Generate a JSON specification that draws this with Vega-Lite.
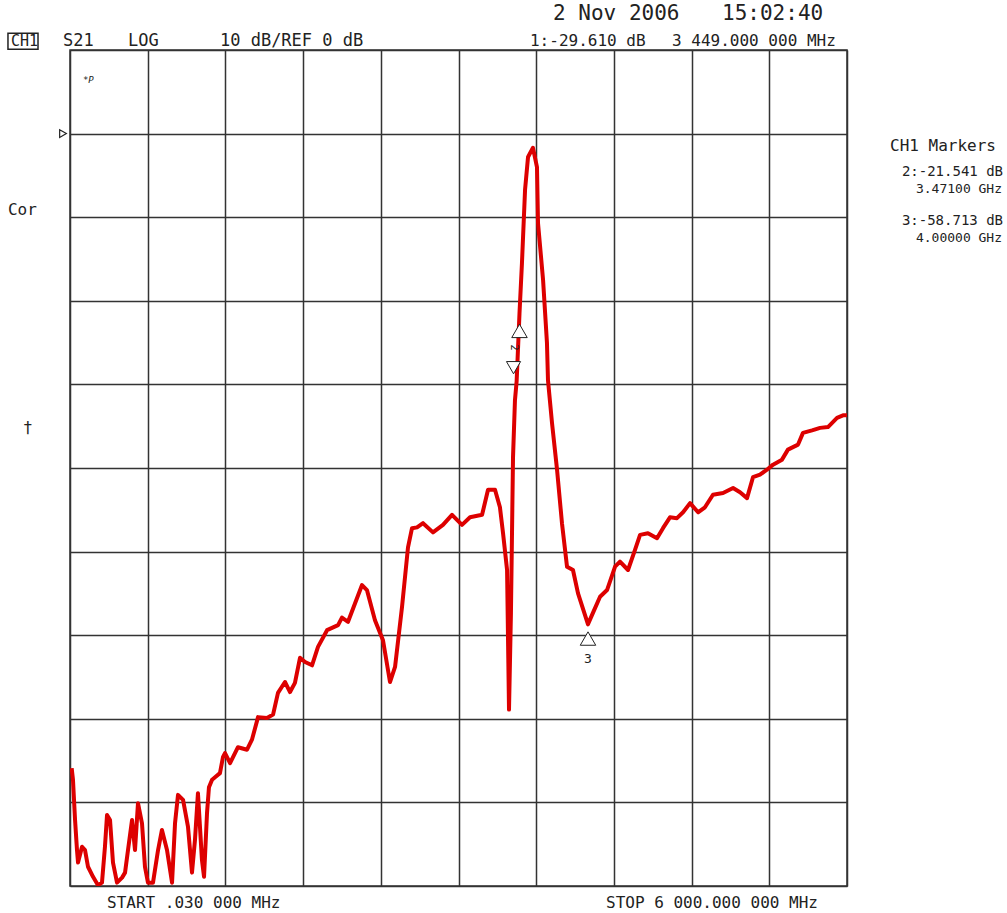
{
  "$schema": "https://vega.github.io/schema/vega-lite/v6.json",
  "width": 777,
  "height": 836,
  "autosize": "none",
  "padding": {"left": 70, "top": 50, "right": 160, "bottom": 27},
  "background": "white",
  "config": {
    "view": {"stroke": "#333333", "strokeWidth": 1.5},
    "text": {"font": "DejaVu Sans Mono", "color": "#222222"}
  },
  "datasets": {
    "trace": [
      {"f": 13, "db": -75.9}, {"f": 23, "db": -77.3}, {"f": 39, "db": -82.1}, {"f": 54, "db": -85.7},
      {"f": 62, "db": -87.2}, {"f": 93, "db": -85.3}, {"f": 116, "db": -85.7}, {"f": 139, "db": -87.7},
      {"f": 178, "db": -88.9}, {"f": 216, "db": -89.9}, {"f": 247, "db": -89.6}, {"f": 270, "db": -85.3},
      {"f": 286, "db": -81.5}, {"f": 309, "db": -82.1}, {"f": 332, "db": -87.2}, {"f": 363, "db": -89.6},
      {"f": 402, "db": -89.0}, {"f": 425, "db": -88.4}, {"f": 448, "db": -85.7}, {"f": 479, "db": -82.1},
      {"f": 502, "db": -85.7}, {"f": 525, "db": -80.1}, {"f": 556, "db": -82.5}, {"f": 579, "db": -87.7},
      {"f": 602, "db": -89.6}, {"f": 641, "db": -89.6}, {"f": 680, "db": -85.7}, {"f": 710, "db": -83.3},
      {"f": 749, "db": -85.7}, {"f": 788, "db": -89.6}, {"f": 811, "db": -82.5}, {"f": 834, "db": -79.1},
      {"f": 873, "db": -79.7}, {"f": 911, "db": -82.9}, {"f": 942, "db": -88.4}, {"f": 965, "db": -84.5},
      {"f": 988, "db": -78.9}, {"f": 1019, "db": -86.9}, {"f": 1035, "db": -88.9}, {"f": 1058, "db": -81.3},
      {"f": 1073, "db": -78.2}, {"f": 1097, "db": -77.3}, {"f": 1120, "db": -77.0}, {"f": 1158, "db": -76.5},
      {"f": 1181, "db": -74.6}, {"f": 1197, "db": -74.1}, {"f": 1236, "db": -75.3}, {"f": 1297, "db": -73.4},
      {"f": 1367, "db": -73.7}, {"f": 1405, "db": -72.5}, {"f": 1452, "db": -69.8}, {"f": 1521, "db": -69.9},
      {"f": 1568, "db": -69.5}, {"f": 1606, "db": -66.9}, {"f": 1660, "db": -65.6}, {"f": 1699, "db": -66.8},
      {"f": 1737, "db": -65.7}, {"f": 1776, "db": -62.7}, {"f": 1815, "db": -63.2}, {"f": 1869, "db": -63.6},
      {"f": 1915, "db": -61.4}, {"f": 1985, "db": -59.4}, {"f": 2070, "db": -58.8}, {"f": 2100, "db": -57.9},
      {"f": 2147, "db": -58.4}, {"f": 2255, "db": -54.0}, {"f": 2293, "db": -54.6}, {"f": 2355, "db": -58.2},
      {"f": 2417, "db": -60.6}, {"f": 2471, "db": -65.6}, {"f": 2510, "db": -63.8}, {"f": 2564, "db": -56.6},
      {"f": 2610, "db": -49.5}, {"f": 2641, "db": -47.2}, {"f": 2680, "db": -47.1}, {"f": 2726, "db": -46.6},
      {"f": 2803, "db": -47.7}, {"f": 2880, "db": -46.8}, {"f": 2950, "db": -45.6}, {"f": 3027, "db": -46.8},
      {"f": 3089, "db": -45.9}, {"f": 3182, "db": -45.6}, {"f": 3228, "db": -42.6}, {"f": 3282, "db": -42.6},
      {"f": 3320, "db": -44.7}, {"f": 3344, "db": -47.8}, {"f": 3375, "db": -52.2}, {"f": 3390, "db": -68.9},
      {"f": 3405, "db": -57.3}, {"f": 3421, "db": -38.7}, {"f": 3436, "db": -31.9}, {"f": 3449, "db": -29.6},
      {"f": 3471, "db": -21.5}, {"f": 3490, "db": -15.5}, {"f": 3514, "db": -6.7}, {"f": 3537, "db": -2.8},
      {"f": 3575, "db": -1.7}, {"f": 3606, "db": -4.0}, {"f": 3614, "db": -10.7}, {"f": 3653, "db": -17.5},
      {"f": 3683, "db": -25.0}, {"f": 3691, "db": -29.5}, {"f": 3722, "db": -34.6}, {"f": 3761, "db": -40.2},
      {"f": 3799, "db": -46.6}, {"f": 3838, "db": -51.8}, {"f": 3884, "db": -52.2}, {"f": 3923, "db": -55.0},
      {"f": 4000, "db": -58.7}, {"f": 4039, "db": -57.3}, {"f": 4093, "db": -55.4}, {"f": 4147, "db": -54.6},
      {"f": 4209, "db": -51.8}, {"f": 4247, "db": -51.2}, {"f": 4309, "db": -52.2}, {"f": 4363, "db": -49.8},
      {"f": 4402, "db": -48.0}, {"f": 4463, "db": -47.8}, {"f": 4533, "db": -48.4}, {"f": 4579, "db": -47.2},
      {"f": 4633, "db": -45.9}, {"f": 4687, "db": -46.0}, {"f": 4734, "db": -45.3}, {"f": 4788, "db": -44.2},
      {"f": 4850, "db": -45.3}, {"f": 4903, "db": -44.7}, {"f": 4965, "db": -43.2}, {"f": 5043, "db": -43.0},
      {"f": 5120, "db": -42.4}, {"f": 5174, "db": -42.9}, {"f": 5228, "db": -43.6}, {"f": 5274, "db": -41.1},
      {"f": 5328, "db": -40.8}, {"f": 5382, "db": -40.2}, {"f": 5429, "db": -39.6}, {"f": 5498, "db": -39.0},
      {"f": 5544, "db": -37.8}, {"f": 5622, "db": -37.2}, {"f": 5660, "db": -35.8}, {"f": 5730, "db": -35.5},
      {"f": 5792, "db": -35.2}, {"f": 5853, "db": -35.1}, {"f": 5923, "db": -34.0}, {"f": 5969, "db": -33.7},
      {"f": 6000, "db": -33.7}
    ],
    "labels": [
      {"grp": "hdr", "t": "S21", "f": -54, "db": 11.1},
      {"grp": "hdr", "t": "LOG", "f": 448, "db": 11.1},
      {"grp": "hdr", "t": "10 dB/REF 0 dB", "f": 1158, "db": 11.1},
      {"grp": "ch", "t": "CH1", "f": -456, "db": 11.1},
      {"grp": "mid", "t": "1:-29.610 dB", "f": 3552, "db": 11.1},
      {"grp": "mid", "t": "3 449.000 000 MHz", "f": 4649, "db": 11.1},
      {"grp": "date", "t": "2 Nov 2006", "f": 3730, "db": 14.3},
      {"grp": "date", "t": "15:02:40", "f": 5035, "db": 14.3},
      {"grp": "mid", "t": "CH1 Markers", "f": 6332, "db": -1.5},
      {"grp": "mk1", "t": "2:-21.541 dB", "f": 7205, "db": -4.6},
      {"grp": "sm", "t": "3.47100 GHz", "f": 7197, "db": -6.6},
      {"grp": "mk1", "t": "3:-58.713 dB", "f": 7205, "db": -10.5},
      {"grp": "sm", "t": "4.00000 GHz", "f": 7197, "db": -12.5},
      {"grp": "mid", "t": "Cor", "f": -479, "db": -9.1},
      {"grp": "mid", "t": "†", "f": -363, "db": -35.2},
      {"grp": "tiny", "t": "*P", "f": 100, "db": 6.4},
      {"grp": "mid", "t": "START  .030 000 MHz", "f": 286, "db": -92.0},
      {"grp": "mid", "t": "STOP 6 000.000 000 MHz", "f": 4139, "db": -92.0},
      {"grp": "mk", "t": "3", "f": 4000, "db": -62.9},
      {"grp": "rot", "t": "2", "f": 3429, "db": -25.6}
    ],
    "box": [{"f": -479, "f2": -247, "db": 12.0, "db2": 10.1}],
    "marks": [
      {"grp": "up", "f": 4000, "db": -60.4},
      {"grp": "up", "f": 3471, "db": -23.6},
      {"grp": "dn", "f": 3425, "db": -28.0},
      {"grp": "ref", "f": -54, "db": 0}
    ]
  },
  "encoding": {
    "x": {
      "field": "f", "type": "quantitative",
      "scale": {"domain": [0, 6000], "nice": false, "zero": false},
      "axis": {"values": [0, 600, 1200, 1800, 2400, 3000, 3600, 4200, 4800, 5400, 6000], "grid": true, "gridColor": "#333333", "gridWidth": 1.5, "gridOpacity": 1, "labels": false, "ticks": false, "domain": false, "title": null}
    },
    "y": {
      "field": "db", "type": "quantitative",
      "scale": {"domain": [-90, 10], "nice": false, "zero": false},
      "axis": {"values": [-90, -80, -70, -60, -50, -40, -30, -20, -10, 0, 10], "grid": true, "gridColor": "#333333", "gridWidth": 1.5, "gridOpacity": 1, "labels": false, "ticks": false, "domain": false, "title": null}
    }
  },
  "layer": [
    {
      "data": {"name": "trace"},
      "mark": {"type": "line", "color": "#dd0000", "strokeWidth": 4, "clip": true, "strokeJoin": "round"}
    },
    {
      "data": {"name": "box"},
      "mark": {"type": "rect", "fill": "white", "fillOpacity": 0, "stroke": "#222222", "strokeWidth": 1.5},
      "encoding": {"x2": {"field": "f2"}, "y2": {"field": "db2"}}
    },
    {
      "data": {"name": "labels"},
      "transform": [{"filter": "datum.grp === 'hdr'"}],
      "mark": {"type": "text", "align": "left", "baseline": "middle", "fontSize": 17},
      "encoding": {"text": {"field": "t"}}
    },
    {
      "data": {"name": "labels"},
      "transform": [{"filter": "datum.grp === 'ch'"}],
      "mark": {"type": "text", "align": "left", "baseline": "middle", "fontSize": 15},
      "encoding": {"text": {"field": "t"}}
    },
    {
      "data": {"name": "labels"},
      "transform": [{"filter": "datum.grp === 'mid'"}],
      "mark": {"type": "text", "align": "left", "baseline": "middle", "fontSize": 16},
      "encoding": {"text": {"field": "t"}}
    },
    {
      "data": {"name": "labels"},
      "transform": [{"filter": "datum.grp === 'mk1'"}],
      "mark": {"type": "text", "align": "right", "baseline": "middle", "fontSize": 14},
      "encoding": {"text": {"field": "t"}}
    },
    {
      "data": {"name": "labels"},
      "transform": [{"filter": "datum.grp === 'sm'"}],
      "mark": {"type": "text", "align": "right", "baseline": "middle", "fontSize": 13},
      "encoding": {"text": {"field": "t"}}
    },
    {
      "data": {"name": "labels"},
      "transform": [{"filter": "datum.grp === 'date'"}],
      "mark": {"type": "text", "align": "left", "baseline": "middle", "fontSize": 21},
      "encoding": {"text": {"field": "t"}}
    },
    {
      "data": {"name": "labels"},
      "transform": [{"filter": "datum.grp === 'tiny'"}],
      "mark": {"type": "text", "align": "left", "baseline": "middle", "fontSize": 9, "fontStyle": "italic"},
      "encoding": {"text": {"field": "t"}}
    },
    {
      "data": {"name": "labels"},
      "transform": [{"filter": "datum.grp === 'mk'"}],
      "mark": {"type": "text", "align": "center", "baseline": "middle", "fontSize": 13},
      "encoding": {"text": {"field": "t"}}
    },
    {
      "data": {"name": "labels"},
      "transform": [{"filter": "datum.grp === 'rot'"}],
      "mark": {"type": "text", "align": "center", "baseline": "middle", "fontSize": 10, "angle": 90},
      "encoding": {"text": {"field": "t"}}
    },
    {
      "data": {"name": "marks"},
      "transform": [{"filter": "datum.grp === 'up'"}],
      "mark": {"type": "point", "shape": "triangle-up", "size": 240, "filled": true, "fill": "white", "stroke": "#222222", "strokeWidth": 1, "opacity": 1}
    },
    {
      "data": {"name": "marks"},
      "transform": [{"filter": "datum.grp === 'dn'"}],
      "mark": {"type": "point", "shape": "triangle-down", "size": 200, "filled": true, "fill": "white", "stroke": "#222222", "strokeWidth": 1, "opacity": 1}
    },
    {
      "data": {"name": "marks"},
      "transform": [{"filter": "datum.grp === 'ref'"}],
      "mark": {"type": "point", "shape": "triangle-right", "size": 60, "filled": true, "fill": "white", "stroke": "#222222", "strokeWidth": 1.2, "opacity": 1}
    }
  ]
}
